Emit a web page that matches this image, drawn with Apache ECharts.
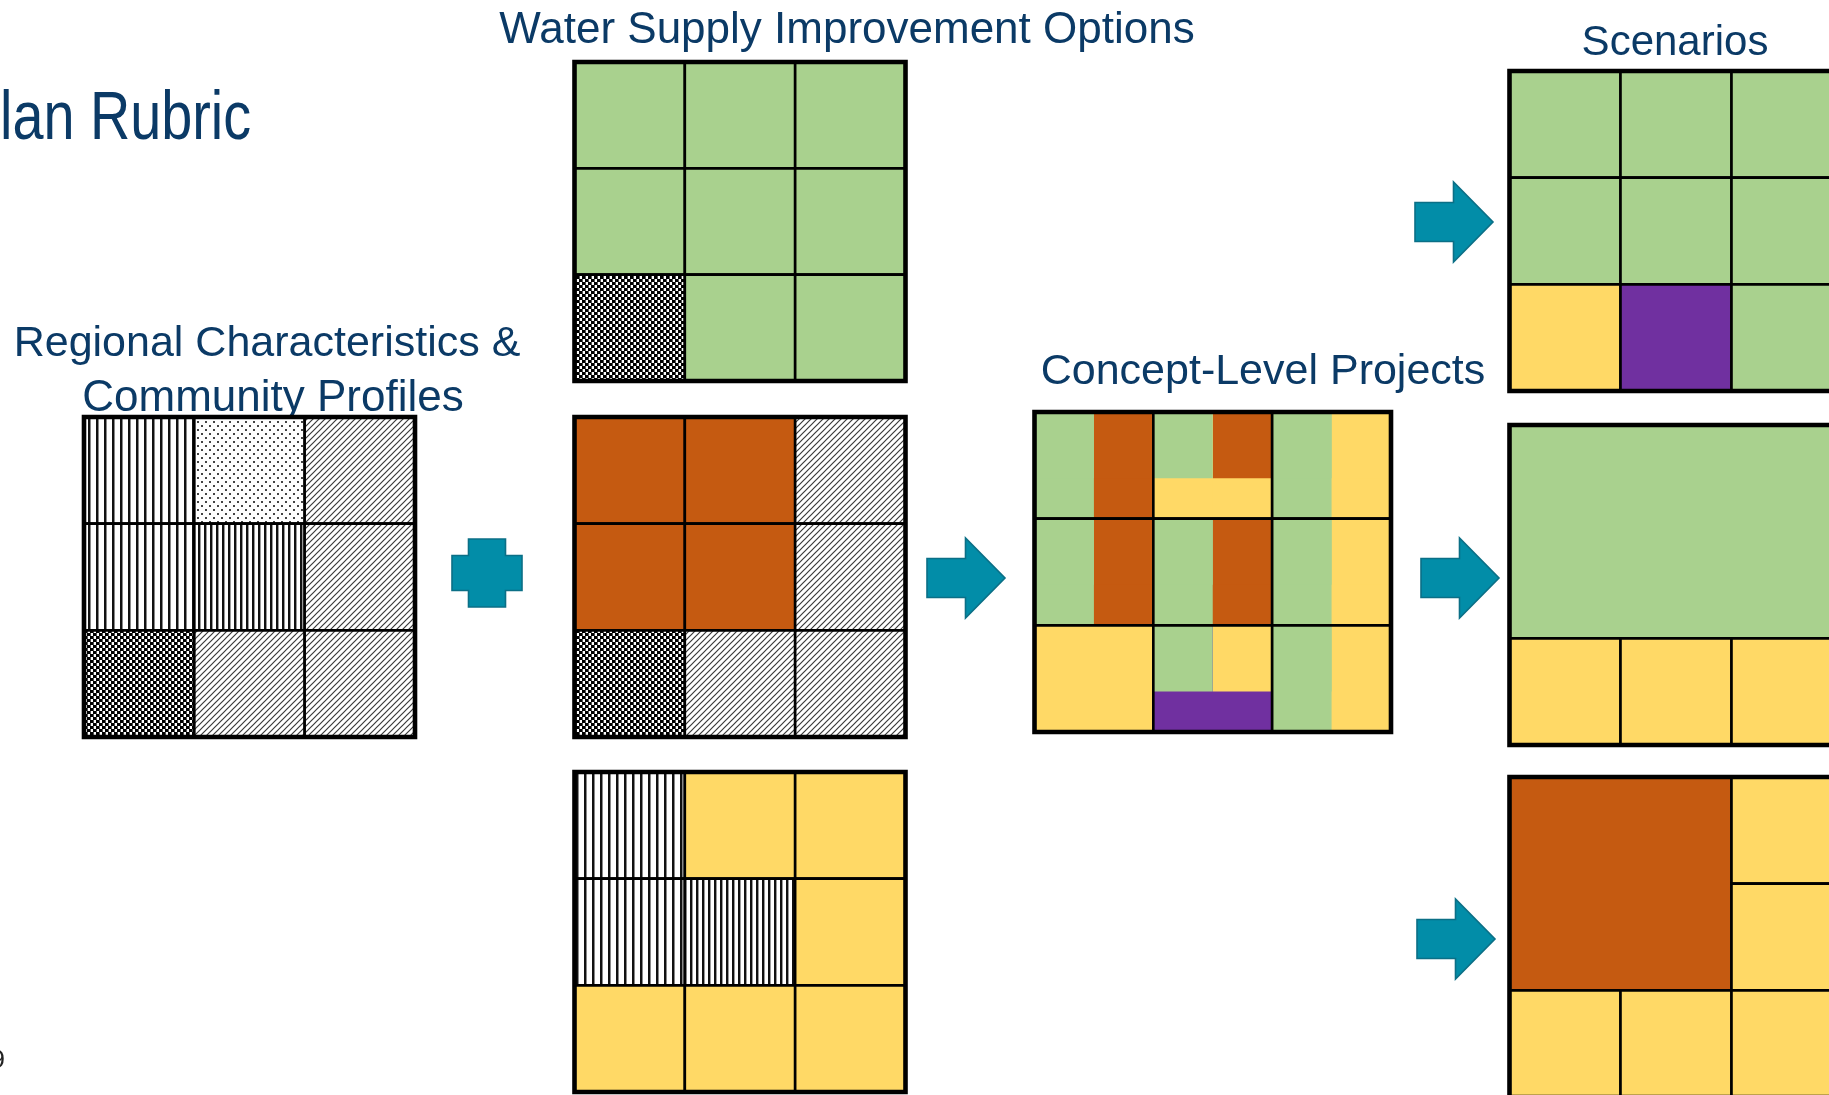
<!DOCTYPE html>
<html><head><meta charset="utf-8">
<script src="https://cdn.jsdelivr.net/npm/echarts@6/dist/echarts.min.js"></script>
<style>html,body{margin:0;padding:0;background:#fff;}#c{width:1829px;height:1095px;}</style>
</head><body><div id="c"></div>
<script>
// ---------- DATA ----------
// cell fill codes, row-major 3x3
const regionalCells = ['VW','DOT','DIAG', 'VW','VN','DIAG', 'CHK','DIAG','DIAG'];
const wsioTopCells  = ['G','G','G', 'G','G','G', 'CHK','G','G'];
const wsioMidCells  = ['O','O','DIAG', 'O','O','DIAG', 'CHK','DIAG','DIAG'];
const wsioBotCells  = ['VW','Y','Y', 'VW','VN','Y', 'Y','Y','Y'];
// concept-level cells: [topLeft, topRight, bottomLeft, bottomRight]
const conceptCells = [
  ['G','O','G','O'], ['G','O','Y','Y'], ['G','Y','G','Y'],
  ['G','O','G','O'], ['G','O','G','O'], ['G','Y','G','Y'],
  ['Y','Y','Y','Y'], ['G','Y','P','P'], ['G','Y','G','Y']
];
// scenarios: [row, col, rowSpan, colSpan, code]
const scenTopCells = ['G','G','G', 'G','G','G', 'Y','P','G'];
const scenMidCells = [[0,0,2,3,'G'],[2,0,1,1,'Y'],[2,1,1,1,'Y'],[2,2,1,1,'Y']];
const scenBotCells = [[0,0,2,2,'O'],[0,2,1,1,'Y'],[1,2,1,1,'Y'],[2,0,1,1,'Y'],[2,1,1,1,'Y'],[2,2,1,1,'Y']];
const labels = ['lan Rubric','Water Supply Improvement Options','Scenarios','Regional Characteristics &','Community Profiles','Concept-Level Projects','9'];

// ---------- LAYOUT / STYLE ----------
const BLOCKS = {
  regional:{x:84, y:417, w:331, h:320},
  wsioTop:{x:574.5, y:62, w:331, h:319},
  wsioMid:{x:574.5, y:417, w:331, h:320},
  wsioBot:{x:574.5, y:772, w:331, h:320},
  concept:{x:1034.5, y:412, w:356.5, h:320},
  scenTop:{x:1509.5, y:71, w:333, h:320},
  scenMid:{x:1509.5, y:425, w:333, h:320},
  scenBot:{x:1509.5, y:777, w:333, h:320}
};
const ARROWS = [[927,578],[1415,222],[1421,578],[1417,939]];
const PLUS = [487,573];
const TEXTPOS = [
  {x:0, y:120, size:68, sx:0.82, align:'left', color:'#0B3A66'},
  {x:847, y:31, size:44, sx:1, align:'center', color:'#0B3A66'},
  {x:1675, y:43, size:42, sx:1, align:'center', color:'#0B3A66'},
  {x:267, y:344, size:43, sx:1, align:'center', color:'#0B3A66'},
  {x:273, y:399, size:44, sx:1, align:'center', color:'#0B3A66'},
  {x:1263, y:372, size:43, sx:1, align:'center', color:'#0B3A66'},
  {x:5, y:1061, size:26, sx:1, align:'right', color:'#222'}
];
const COLORS = {G:'#A9D18E', O:'#C55A11', Y:'#FFD966', P:'#7030A0'};

function pat(type){
  const c=document.createElement('canvas'); let g;
  if(type==='VW'){c.width=8;c.height=8;g=c.getContext('2d');g.fillStyle='#fff';g.fillRect(0,0,8,8);g.fillStyle='#111';g.fillRect(0,0,2,8);g.fillStyle='#888';g.fillRect(2,0,1,8);}
  else if(type==='VN'){c.width=6;c.height=6;g=c.getContext('2d');g.fillStyle='#fff';g.fillRect(0,0,6,6);g.fillStyle='#111';g.fillRect(0,0,2,6);g.fillStyle='#999';g.fillRect(2,0,1,6);}
  else if(type==='DOT'){c.width=8;c.height=8;g=c.getContext('2d');g.fillStyle='#fff';g.fillRect(0,0,8,8);g.fillStyle='#444';g.fillRect(1,1,2,2);g.fillRect(5,5,2,2);}
  else if(type==='DIAG'){c.width=6;c.height=6;g=c.getContext('2d');g.fillStyle='#fff';g.fillRect(0,0,6,6);g.strokeStyle='#3a3a3a';g.lineWidth=1.2;g.beginPath();g.moveTo(-1,7);g.lineTo(7,-1);g.moveTo(-1,1);g.lineTo(1,-1);g.moveTo(5,7);g.lineTo(7,5);g.stroke();}
  else if(type==='CHK'){c.width=6;c.height=6;g=c.getContext('2d');g.fillStyle='#fff';g.fillRect(0,0,6,6);g.fillStyle='#000';g.fillRect(0,0,3,3);g.fillRect(3,3,3,3);g.fillStyle='#555';g.fillRect(3,0,1,3);g.fillRect(0,3,1,3);}
  return {image:c, repeat:'repeat'};
}
const PATTERNS = {VW:pat('VW'),VN:pat('VN'),DOT:pat('DOT'),DIAG:pat('DIAG'),CHK:pat('CHK')};
function fillOf(code){ return COLORS[code] || PATTERNS[code]; }

// build grid cell list [blockName,row,col,rowSpan,colSpan,code]
const gridData = [];
function addUniform(name, cells){ cells.forEach((c,i)=>gridData.push([name, Math.floor(i/3), i%3, 1, 1, c])); }
function addSpans(name, cells){ cells.forEach(c=>gridData.push([name, c[0], c[1], c[2], c[3], c[4]])); }
addUniform('regional', regionalCells);
addUniform('wsioTop', wsioTopCells);
addUniform('wsioMid', wsioMidCells);
addUniform('wsioBot', wsioBotCells);
addUniform('scenTop', scenTopCells);
addSpans('scenMid', scenMidCells);
addSpans('scenBot', scenBotCells);

const chart = echarts.init(document.getElementById('c'), null, {renderer:'canvas'});

function rectPx(api, x0, y0, x1, y1){
  const p0 = api.coord([x0, y0]), p1 = api.coord([x1, y1]);
  return {x: Math.min(p0[0],p1[0]), y: Math.min(p0[1],p1[1]), width: Math.abs(p1[0]-p0[0]), height: Math.abs(p1[1]-p0[1])};
}

const option = {
  animation:false,
  backgroundColor:'#fff',
  grid:{left:0,right:0,top:0,bottom:0},
  xAxis:{type:'value',min:0,max:1829,show:false},
  yAxis:{type:'value',min:0,max:1095,inverse:true,show:false},
  graphic: labels.map((t,i)=>({
    type:'text', z:1, x:TEXTPOS[i].x, y:TEXTPOS[i].y, scaleX:TEXTPOS[i].sx,
    style:{text:t, fill:TEXTPOS[i].color, font:TEXTPOS[i].size+'px "Liberation Sans"',
      textAlign:TEXTPOS[i].align, textVerticalAlign:'middle'}
  })),
  series:[
    { // grid cells
      type:'custom', z:5, silent:true, clip:false,
      data: gridData.map((d,i)=>[i]),
      renderItem:(params, api)=>{
        const d = gridData[params.dataIndex];
        const b = BLOCKS[d[0]], cw=b.w/3, ch=b.h/3;
        const s = rectPx(api, b.x+d[2]*cw, b.y+d[1]*ch, b.x+(d[2]+d[4])*cw, b.y+(d[1]+d[3])*ch);
        return {type:'rect', shape:s, style:{fill:fillOf(d[5]), stroke:'#000', lineWidth:2.6}};
      }
    },
    { // concept cells
      type:'custom', z:5, silent:true, clip:false,
      data: conceptCells.map((c,i)=>[i]),
      renderItem:(params, api)=>{
        const c = conceptCells[params.dataIndex];
        const b = BLOCKS.concept, cw=b.w/3, ch=b.h/3;
        const r = Math.floor(params.dataIndex/3), col = params.dataIndex%3;
        const x0=b.x+col*cw, y0=b.y+r*ch, xm=x0+cw*0.5, ym=y0+ch*0.62, x1=x0+cw, y1=y0+ch;
        // layered so that equal colours never show seams
        const parts = [[x0,y0,x1,y1,c[3]],[xm,y0,x1,ym,c[1]],[x0,y0,xm,y1,c[2]],[x0,y0,xm,ym,c[0]]];
        const children = parts.map(p=>({type:'rect', shape:rectPx(api,p[0],p[1],p[2],p[3]), style:{fill:fillOf(p[4])}}));
        children.push({type:'rect', shape:rectPx(api,x0,y0,x1,y1), style:{fill:null, stroke:'#000', lineWidth:2.6}});
        return {type:'group', children};
      }
    },
    { // outer borders
      type:'custom', z:6, silent:true, clip:false,
      data: Object.keys(BLOCKS).map((k,i)=>[i]),
      renderItem:(params, api)=>{
        const b = BLOCKS[Object.keys(BLOCKS)[params.dataIndex]];
        return {type:'rect', shape:rectPx(api,b.x,b.y,b.x+b.w,b.y+b.h), style:{fill:null, stroke:'#000', lineWidth:4.6}};
      }
    },
    { // arrows
      type:'custom', z:6, silent:true, clip:false,
      data: ARROWS.map((a,i)=>[i]),
      renderItem:(params, api)=>{
        const a = ARROWS[params.dataIndex], x=a[0], y=a[1];
        const pts = [[x,y-19.5],[x+38.5,y-19.5],[x+38.5,y-40],[x+78,y],[x+38.5,y+40],[x+38.5,y+19.5],[x,y+19.5]].map(p=>api.coord(p));
        return {type:'polygon', shape:{points:pts}, style:{fill:'#028DA8', stroke:'#0B6F86', lineWidth:1.6}};
      }
    },
    { // plus
      type:'custom', z:6, silent:true, clip:false,
      data: [[0]],
      renderItem:(params, api)=>{
        const x=PLUS[0], y=PLUS[1], a=18.5, L=35, V=34;
        const pts = [[x-a,y-V],[x+a,y-V],[x+a,y-a+1],[x+L,y-a+1],[x+L,y+a-1],[x+a,y+a-1],[x+a,y+V],[x-a,y+V],[x-a,y+a-1],[x-L,y+a-1],[x-L,y-a+1],[x-a,y-a+1]].map(p=>api.coord(p));
        return {type:'polygon', shape:{points:pts}, style:{fill:'#028DA8', stroke:'#0B6F86', lineWidth:1.6}};
      }
    }
  ]
};
chart.setOption(option);
</script></body></html>
